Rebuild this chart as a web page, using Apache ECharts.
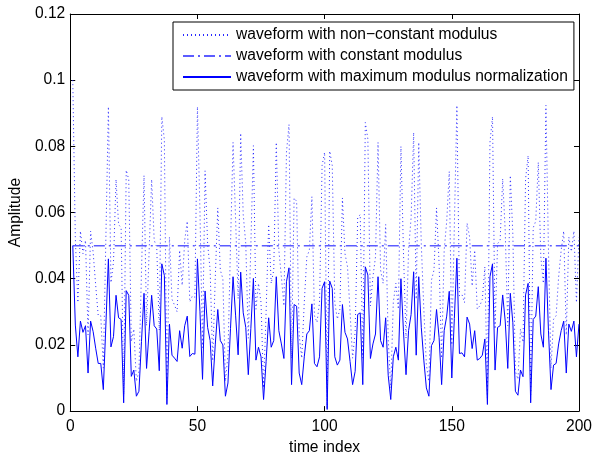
<!DOCTYPE html>
<html>
<head>
<meta charset="utf-8">
<script src="https://cdn.jsdelivr.net/npm/echarts@6/dist/echarts.min.js"></script>
<style>
  html, body { margin: 0; padding: 0; background: #fff; }
  #chart { width: 595px; height: 461px; }
</style>
</head>
<body>
<div id="chart"></div>
<script>
// time index of the samples (1..200)
var timeIndex = [
  1,2,3,4,5,6,7,8,9,10,11,12,13,14,15,16,17,18,19,20,
  21,22,23,24,25,26,27,28,29,30,31,32,33,34,35,36,37,38,39,40,
  41,42,43,44,45,46,47,48,49,50,51,52,53,54,55,56,57,58,59,60,
  61,62,63,64,65,66,67,68,69,70,71,72,73,74,75,76,77,78,79,80,
  81,82,83,84,85,86,87,88,89,90,91,92,93,94,95,96,97,98,99,100,
  101,102,103,104,105,106,107,108,109,110,111,112,113,114,115,116,117,118,119,120,
  121,122,123,124,125,126,127,128,129,130,131,132,133,134,135,136,137,138,139,140,
  141,142,143,144,145,146,147,148,149,150,151,152,153,154,155,156,157,158,159,160,
  161,162,163,164,165,166,167,168,169,170,171,172,173,174,175,176,177,178,179,180,
  181,182,183,184,185,186,187,188,189,190,191,192,193,194,195,196,197,198,199,200
];

// dotted: waveform with non-constant modulus
var nonConstant = [
  0.100, 0.052, 0.0328, 0.0544, 0.0476, 0.0516, 0.023, 0.0544, 0.048, 0.038,
  0.0288, 0.0288, 0.013, 0.052, 0.092, 0.0388, 0.045, 0.07, 0.0564, 0.0554,
  0.005, 0.0728, 0.07, 0.021, 0.0248, 0.009, 0.012, 0.042, 0.0712, 0.0258,
  0.048, 0.07, 0.0516, 0.0496, 0.0244, 0.089, 0.082, 0.004, 0.0526, 0.0338,
  0.032, 0.03, 0.0486, 0.038, 0.0516, 0.0574, 0.033, 0.0348, 0.0344, 0.092,
  0.06, 0.0192, 0.0726, 0.0506, 0.0426, 0.0152, 0.04, 0.0614, 0.0426, 0.04,
  0.009, 0.017, 0.05, 0.0812, 0.058, 0.034, 0.084, 0.0594, 0.0506, 0.022,
  0.05, 0.0802, 0.0308, 0.0386, 0.0328, 0.007, 0.03, 0.0564, 0.0386, 0.0426,
  0.0812, 0.0486, 0.0406, 0.0318, 0.0782, 0.0866, 0.016, 0.0644, 0.0634, 0.023,
  0.016, 0.0328, 0.0466, 0.0486, 0.0648, 0.0288, 0.0268, 0.0328, 0.0742, 0.0782,
  0.001, 0.0786, 0.0742, 0.0328, 0.0278, 0.0308, 0.0644, 0.0476, 0.0436, 0.03,
  0.016, 0.024, 0.0584, 0.0594, 0.016, 0.0872, 0.0822, 0.0318, 0.0406, 0.0466,
  0.0812, 0.0426, 0.0386, 0.0564, 0.0216, 0.007, 0.0328, 0.0386, 0.0308, 0.08,
  0.048, 0.022, 0.0486, 0.0584, 0.0842, 0.0338, 0.0812, 0.0506, 0.0308, 0.014,
  0.009, 0.0396, 0.0426, 0.0614, 0.0446, 0.016, 0.0486, 0.0574, 0.0724, 0.02,
  0.056, 0.0924, 0.0348, 0.0352, 0.0328, 0.0568, 0.0526, 0.0378, 0.0486, 0.0308,
  0.0318, 0.0338, 0.0436, 0.004, 0.0812, 0.089, 0.0248, 0.0506, 0.0516, 0.0702,
  0.0544, 0.0258, 0.0712, 0.0534, 0.012, 0.0096, 0.0248, 0.0208, 0.0702, 0.0772,
  0.005, 0.0554, 0.0574, 0.0752, 0.0466, 0.0386, 0.0924, 0.0486, 0.013, 0.0278,
  0.0288, 0.0406, 0.0486, 0.0544, 0.023, 0.0526, 0.0482, 0.0544, 0.0328, 0.0526
];

// dash-dot: waveform with constant modulus (flat line, end points)
var constIndex = [1, 200];
var constValues = [0.05, 0.05];

// solid: waveform with maximum modulus normalization
var maxNorm = [
  0.050, 0.026, 0.0164, 0.0272, 0.0238, 0.0258, 0.0115, 0.0272, 0.024, 0.019,
  0.0144, 0.0144, 0.0065, 0.026, 0.046, 0.0194, 0.0225, 0.035, 0.0282, 0.0277,
  0.0025, 0.0364, 0.035, 0.0105, 0.0124, 0.0045, 0.006, 0.021, 0.0356, 0.0129,
  0.024, 0.035, 0.0258, 0.0248, 0.0122, 0.0445, 0.041, 0.002, 0.0263, 0.0169,
  0.016, 0.015, 0.0243, 0.019, 0.0258, 0.0287, 0.0165, 0.0174, 0.0172, 0.046,
  0.03, 0.0096, 0.0363, 0.0253, 0.0213, 0.0076, 0.02, 0.0307, 0.0213, 0.02,
  0.0045, 0.0085, 0.025, 0.0406, 0.029, 0.017, 0.042, 0.0297, 0.0253, 0.011,
  0.025, 0.0401, 0.0154, 0.0193, 0.0164, 0.0035, 0.015, 0.0282, 0.0193, 0.0213,
  0.0406, 0.0243, 0.0203, 0.0159, 0.0391, 0.0433, 0.008, 0.0322, 0.0317, 0.0115,
  0.008, 0.0164, 0.0233, 0.0243, 0.0324, 0.0144, 0.0134, 0.0164, 0.0371, 0.0391,
  0.0005, 0.0393, 0.0371, 0.0164, 0.0139, 0.0154, 0.0322, 0.0238, 0.0218, 0.015,
  0.008, 0.012, 0.0292, 0.0297, 0.008, 0.0436, 0.0411, 0.0159, 0.0203, 0.0233,
  0.0406, 0.0213, 0.0193, 0.0282, 0.0108, 0.0035, 0.0164, 0.0193, 0.0154, 0.04,
  0.024, 0.011, 0.0243, 0.0292, 0.0421, 0.0169, 0.0406, 0.0253, 0.0154, 0.007,
  0.0045, 0.0198, 0.0213, 0.0307, 0.0223, 0.008, 0.0243, 0.0287, 0.0362, 0.01,
  0.028, 0.0462, 0.0174, 0.0176, 0.0164, 0.0284, 0.0263, 0.0189, 0.0243, 0.0154,
  0.0159, 0.0169, 0.0218, 0.002, 0.0406, 0.0445, 0.0124, 0.0253, 0.0258, 0.0351,
  0.0272, 0.0129, 0.0356, 0.0267, 0.006, 0.0048, 0.0124, 0.0104, 0.0351, 0.0386,
  0.0025, 0.0277, 0.0287, 0.0376, 0.0233, 0.0193, 0.0462, 0.0243, 0.0065, 0.0139,
  0.0144, 0.0203, 0.0243, 0.0272, 0.0115, 0.0263, 0.0241, 0.0272, 0.0164, 0.0263
];

var seriesNames = [
  'waveform with non\u2212constant modulus',
  'waveform with constant modulus',
  'waveform with maximum modulus normalization'
];

function pairs(xs, ys) {
  var out = [];
  for (var i = 0; i < ys.length; i++) out.push([xs[i], ys[i]]);
  return out;
}

var font = 'Liberation Sans, Arial, Helvetica, sans-serif';
var fs = 15.6;
var chart = echarts.init(document.getElementById('chart'), null, { renderer: 'canvas' });

var tickStyle = { show: true, inside: true, length: 5, lineStyle: { color: '#000', width: 1 } };
var lineAxis = { show: true, onZero: false, lineStyle: { color: '#000', width: 1 } };

var option = {
  animation: false,
  backgroundColor: '#fff',
  textStyle: { fontFamily: font },
  grid: { left: 69, right: 14, top: 14, bottom: 42, containLabel: false },
  legend: {
    orient: 'vertical',
    left: 173,
    top: 22,
    padding: [5, 6, 5, 9],
    itemWidth: 48,
    itemHeight: 14,
    itemGap: 5,
    backgroundColor: '#fff',
    borderColor: '#000',
    borderWidth: 1,
    borderRadius: 0,
    selectedMode: false,
    // hide the symbol the line legend icon draws by default
    itemStyle: { color: 'rgba(0,0,0,0)', borderWidth: 0, opacity: 0 },
    textStyle: { fontFamily: font, fontSize: fs, color: '#000' },
    data: seriesNames
  },
  xAxis: [
    {
      type: 'value', min: 0, max: 200, interval: 50,
      name: 'time index', nameLocation: 'middle', nameGap: 27,
      nameTextStyle: { fontFamily: font, fontSize: fs, color: '#000' },
      axisLine: lineAxis, axisTick: tickStyle,
      axisLabel: { fontFamily: font, fontSize: fs, color: '#000', margin: 8 },
      splitLine: { show: false }
    },
    {
      type: 'value', min: 0, max: 200, interval: 50, position: 'top',
      axisLine: lineAxis, axisTick: tickStyle,
      axisLabel: { show: false }, splitLine: { show: false }
    }
  ],
  yAxis: [
    {
      type: 'value', min: 0, max: 0.12, interval: 0.02,
      name: 'Amplitude', nameLocation: 'middle', nameGap: 38,
      nameTextStyle: { fontFamily: font, fontSize: fs, color: '#000' },
      axisLine: lineAxis, axisTick: tickStyle,
      axisLabel: {
        fontFamily: font, fontSize: fs, color: '#000', margin: 5,
        formatter: function (v) { return String(Math.round(v * 100) / 100); }
      },
      splitLine: { show: false }
    },
    {
      type: 'value', min: 0, max: 0.12, interval: 0.02, position: 'right',
      axisLine: lineAxis, axisTick: tickStyle,
      axisLabel: { show: false }, splitLine: { show: false }
    }
  ],
  series: [
    {
      name: seriesNames[0], type: 'line', symbol: 'none',
      data: pairs(timeIndex, nonConstant),
      lineStyle: { color: '#2a2aff', width: 1, type: [1, 3] },
      itemStyle: { color: '#2a2aff' }
    },
    {
      name: seriesNames[1], type: 'line', symbol: 'none',
      data: pairs(constIndex, constValues),
      lineStyle: { color: '#5c5cff', width: 1.5, type: [11, 4, 2, 4] },
      itemStyle: { color: '#5c5cff' }
    },
    {
      name: seriesNames[2], type: 'line', symbol: 'none',
      data: pairs(timeIndex, maxNorm),
      lineStyle: { color: '#0000ff', width: 1 },
      itemStyle: { color: '#0000ff' }
    }
  ]
};

chart.setOption(option);
</script>
</body>
</html>
